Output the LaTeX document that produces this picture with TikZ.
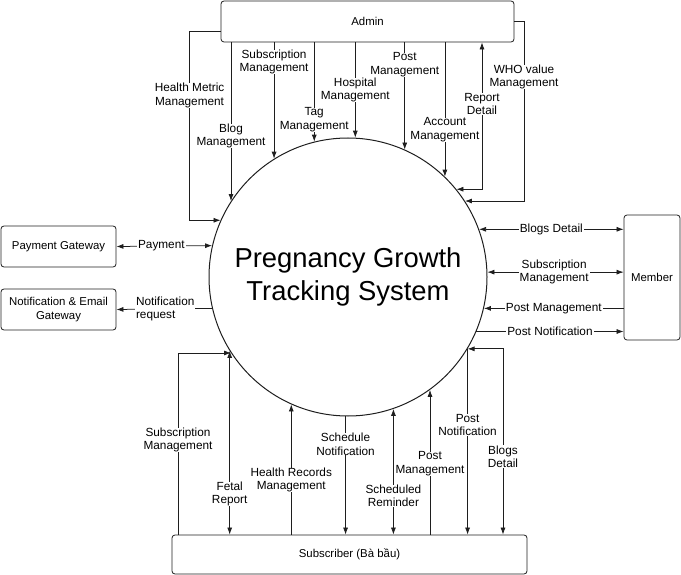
\documentclass[tikz,border=0pt]{standalone}
\usepackage{fontspec}
\setmainfont{Liberation Sans}
\usetikzlibrary{arrows.meta}
\definecolor{lineink}{HTML}{1E1E1E}

\tikzset{
  >={Latex[length=7pt,width=5pt]},
  box/.style={draw=lineink, rounded corners=3pt, line width=0.8pt, inner sep=0pt,
              align=center, font=\fontsize{11.4}{13.5}\selectfont},
  flow/.style={draw=lineink, line width=0.75pt, ->},
  flows/.style={draw=lineink, line width=0.75pt, <->},
  lbl/.style={fill=white, inner xsep=1pt, inner ysep=0pt, align=center,
              font=\fontsize{11.8}{13.5}\selectfont},
}

\begin{document}
\begin{tikzpicture}[x=1pt, y=-1pt]
  \useasboundingbox (0,0) rectangle (681,575);
  % process in the middle
  \node[circle, draw=lineink, line width=1pt, minimum size=278pt, inner sep=0pt,
        align=center, font=\fontsize{27.4}{33}\selectfont] (sys) at (348,277)
        {Pregnancy Growth\\Tracking System};
  % outer entities
  \node[box, minimum width=293pt, minimum height=41pt] (admin) at (367.5,21.5) {Admin};
  \node[box, minimum width=115pt, minimum height=41pt] (pay) at (58.5,246.5) {Payment Gateway};
  \node[box, minimum width=115pt, minimum height=41pt] (notif) at (58.5,309.5) {Notification \& Email\\Gateway};
  \node[box, minimum width=56pt, minimum height=125pt] (member) at (652,277.5) {Member};
  \node[box, minimum width=355pt, minimum height=39pt] (sub) at (349.5,554.5) {Subscriber (Bà bầu)};

  % admin flows
  \draw[flow] ([yshift=-10pt]admin.west) -| node[lbl, pos=0.67] (lhm) {Health Metric\\Management}
        ([xshift=-31pt]sys.156.7) -- (sys.156.7);
  \draw[flow] (admin.south -| sys.147.3) -- node[lbl, pos=0.59] (lblog) {Blog\\Management} (sys.147.3);
  \draw[flow] (admin.south -| sys.122.2) -- node[lbl, pos=0.17] (lsuba) {Subscription\\Management} (sys.122.2);
  \draw[flow] (admin.south -| sys.104.2) -- node[lbl, pos=0.78] (ltag) {Tag\\Management} (sys.104.2);
  \draw[flow] (admin.south -| sys.87.5) -- node[lbl, pos=0.5] (lhosp) {Hospital\\Management} (sys.87.5);
  \draw[flow] (admin.south -| sys.66.2) -- node[lbl, pos=0.21] (lposta) {Post\\Management} (sys.66.2);
  \draw[flows] (sys.39.8) -| node[lbl, pos=0.79] (lrep) {Report\\Detail} ([xshift=114.5pt]admin.south);
  \draw[flow] (admin.south -| sys.46.9) -- node[lbl, pos=0.65] (lacc) {Account\\Management} (sys.46.9);
  \draw[flow] (admin.east) -| node[lbl, pos=0.655] (lwho) {WHO value\\Management}
        ([xshift=59pt]sys.33.6) -- (sys.33.6);

  % gateways
  \draw[flows] (pay.east) -- node[lbl, pos=0.47] (lpay) {Payment} (sys.167.3);
  \draw[flow] (sys.193.5) -- node[lbl, pos=0.49, align=left] (lnreq) {Notification\\request} (notif.east);

  % member flows
  \draw[flows] (sys.20.2) -- node[lbl, pos=0.5] (lbdm) {Blogs Detail} (sys.20.2 -| member.west);
  \draw[flows] (sys.2.9) -- node[lbl, pos=0.49] (lsubm) {Subscription\\Management} (sys.2.9 -| member.west);
  \draw[flow] (sys.347.1 -| member.west) -- node[lbl, pos=0.5] (lpmm) {Post Management} (sys.347.1);
  \draw[flow] (sys.337.1) -- node[lbl, pos=0.5] (lpnm) {Post Notification} (sys.337.1 -| member.west);

  % subscriber flows
  \draw[flow] ([xshift=-171.5pt]sub.north) |- node[lbl, pos=0.26] (lsubs) {Subscription\\Management} (sys.213.1);
  \draw[flows] (sys.212.7) -- node[lbl, pos=0.78] (lfet) {Fetal\\Report} (sys.212.7 |- sub.north);
  \draw[flow] (sub.north -| sys.246.7) -- node[lbl, pos=0.42] (lhr) {Health Records\\Management} (sys.246.7);
  \draw[flow] (sys.269.2) -- node[lbl, pos=0.235] (lsn) {Schedule\\Notification} (sys.269.2 |- sub.north);
  \draw[flows] (sys.289.3) -- node[lbl, pos=0.69] (lsr) {Scheduled\\Reminder} (sys.289.3 |- sub.north);
  \draw[flow] (sub.north -| sys.306.2) -- node[lbl, pos=0.49] (lpms) {Post\\Management} (sys.306.2);
  \draw[flow] (sys.329.7) -- node[lbl, pos=0.41] (lpns) {Post\\Notification} (sys.329.7 |- sub.north);
  \draw[flows] (sys.329.3) -| node[lbl, pos=0.79] (lbds) {Blogs\\Detail} ([xshift=153.5pt]sub.north);
\end{tikzpicture}
\end{document}
